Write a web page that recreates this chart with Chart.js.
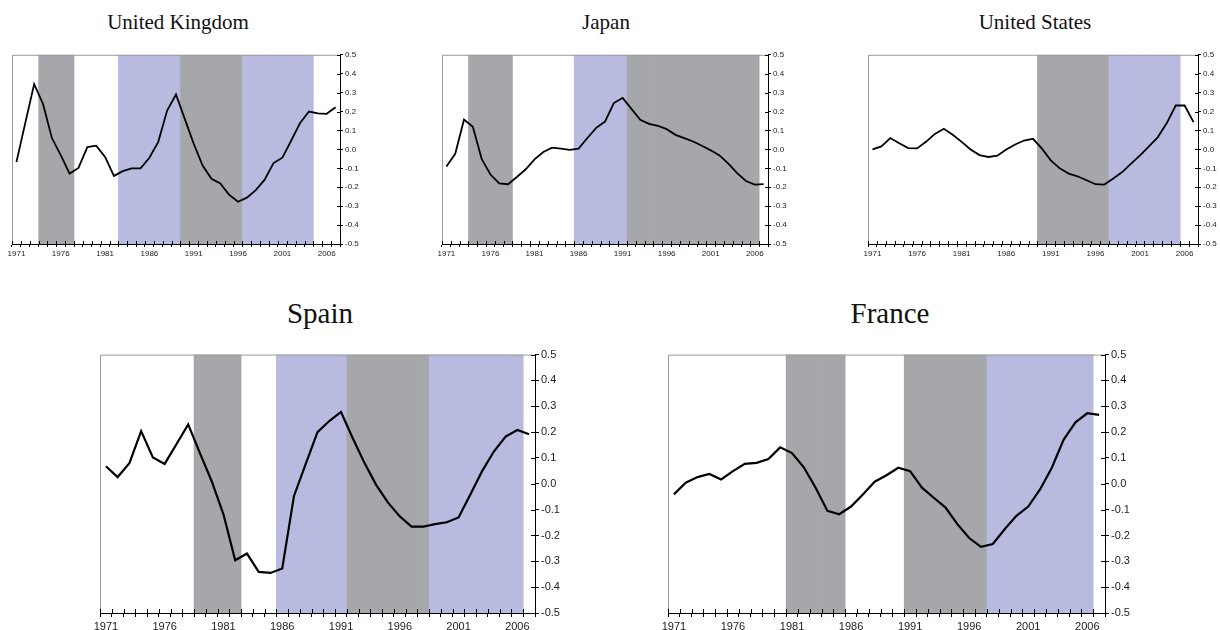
<!DOCTYPE html>
<html>
<head>
<meta charset="utf-8">
<script src="https://cdn.jsdelivr.net/npm/chart.js@4.4.1/dist/chart.umd.min.js"></script>
<style>
  body { margin: 0; background: #fff; width: 1220px; height: 630px; position: relative; overflow: hidden; }
  canvas { position: absolute; }
  .title { position: absolute; width: 300px; text-align: center; font-family: "Liberation Serif", "DejaVu Serif", serif; line-height: 1; color: #111; }
</style>
</head>
<body>
<div class="title" style="left:28px;top:12px;font-size:21px">United Kingdom</div>
<div class="title" style="left:456px;top:12px;font-size:21px">Japan</div>
<div class="title" style="left:885px;top:12px;font-size:21px">United States</div>
<div class="title" style="left:170px;top:299px;font-size:29px">Spain</div>
<div class="title" style="left:740px;top:299px;font-size:29px">France</div>

<canvas id="uk" width="362" height="212" style="left:0px;top:48px"></canvas>
<canvas id="japan" width="360" height="212" style="left:430px;top:48px"></canvas>
<canvas id="us" width="364" height="212" style="left:856px;top:48px"></canvas>
<canvas id="spain" width="477" height="284" style="left:88px;top:346px"></canvas>
<canvas id="france" width="479" height="284" style="left:656px;top:346px"></canvas>

<script>
// years on the x axis
const years = [1971, 1972, 1973, 1974, 1975, 1976, 1977, 1978, 1979, 1980,
    1981, 1982, 1983, 1984, 1985, 1986, 1987, 1988, 1989, 1990,
    1991, 1992, 1993, 1994, 1995, 1996, 1997, 1998, 1999, 2000,
    2001, 2002, 2003, 2004, 2005, 2006, 2007];
const yTicks = [-0.5, -0.4, -0.3, -0.2, -0.1, 0.0, 0.1, 0.2, 0.3, 0.4, 0.5];

// series values
const ukValues = [-0.067, 0.14, 0.345, 0.24, 0.06, -0.03, -0.128, -0.098, 0.012, 0.02,
    -0.04, -0.14, -0.115, -0.10, -0.10, -0.044, 0.04, 0.205, 0.29, 0.16,
    0.03, -0.085, -0.155, -0.18, -0.24, -0.277, -0.255, -0.215, -0.16, -0.072,
    -0.044, 0.047, 0.14, 0.20, 0.19, 0.188, 0.223];
const japanValues = [-0.09, -0.023, 0.158, 0.12, -0.05, -0.133, -0.18, -0.184, -0.146, -0.105,
    -0.053, -0.014, 0.009, 0.004, -0.002, 0.004, 0.06, 0.114, 0.147, 0.245,
    0.272, 0.214, 0.156, 0.135, 0.125, 0.107, 0.077, 0.06, 0.042, 0.019,
    -0.005, -0.032, -0.075, -0.125, -0.167, -0.186, -0.184];
const usValues = [0.0, 0.016, 0.06, 0.033, 0.007, 0.005, 0.04, 0.082, 0.109, 0.077,
    0.04, 0.0, -0.03, -0.04, -0.033, 0.0, 0.026, 0.047, 0.056, 0.004,
    -0.058, -0.10, -0.128, -0.142, -0.163, -0.184, -0.186, -0.154, -0.12, -0.075,
    -0.032, 0.016, 0.065, 0.139, 0.232, 0.232, 0.144];
const spainValues = [0.068, 0.026, 0.08, 0.204, 0.102, 0.077, 0.153, 0.23, 0.119, 0.01,
    -0.118, -0.296, -0.27, -0.341, -0.345, -0.328, -0.047, 0.077, 0.20, 0.243,
    0.278, 0.176, 0.08, -0.005, -0.073, -0.126, -0.166, -0.166, -0.156, -0.149,
    -0.13, -0.041, 0.049, 0.125, 0.183, 0.208, 0.192];
const franceValues = [-0.041, 0.004, 0.026, 0.038, 0.017, 0.049, 0.077, 0.081, 0.096, 0.141,
    0.119, 0.064, -0.015, -0.105, -0.118, -0.088, -0.041, 0.008, 0.033, 0.062,
    0.049, -0.015, -0.054, -0.092, -0.156, -0.21, -0.244, -0.233, -0.176, -0.124,
    -0.088, -0.022, 0.062, 0.171, 0.238, 0.273, 0.267];

// shaded periods (first year, last year)
const ukGray = [[1974, 1977], [1990, 1996]];
const ukBlue = [[1983, 1989], [1997, 2004]];
const japanGray = [[1974, 1978], [1992, 2006]];
const japanBlue = [[1986, 1991]];
const usGray = [[1990, 1997]];
const usBlue = [[1998, 2005]];
const spainGray = [[1979, 1982], [1992, 1998]];
const spainBlue = [[1986, 1991], [1999, 2006]];
const franceGray = [[1981, 1985], [1991, 1997]];
const franceBlue = [[1998, 2006]];

const GRAY = '#a6a7aa';
const BLUE = '#b8bbdf';

function inSpans(y, spans) {
    return spans.some(s => y >= s[0] && y <= s[1]);
}

// inward half of the crossing tick marks + grey plot outline
const frame = {
    id: 'frame',
    afterDatasetsDraw(chart) {
        const a = chart.chartArea, c = chart.ctx;
        c.save();
        c.strokeStyle = '#9a9a9a';
        c.lineWidth = 1;
        c.beginPath();
        c.moveTo(a.left + 0.5, a.bottom);
        c.lineTo(a.left + 0.5, a.top + 0.5);
        c.lineTo(a.right, a.top + 0.5);
        c.stroke();
        c.restore();
    },
    afterDraw(chart) {
        const a = chart.chartArea, c = chart.ctx;
        const x = chart.scales.x, y = chart.scales.y;
        const len = chart.options.plugins.frame.len;
        c.save();
        c.strokeStyle = '#000';
        c.lineWidth = 1;
        c.beginPath();
        for (let i = 0; i <= years.length; i++) {
            const px = Math.round(x.getPixelForValue(i - 0.5)) + 0.5;
            c.moveTo(px, a.bottom);
            c.lineTo(px, a.bottom - len);
        }
        y.ticks.forEach(t => {
            const py = Math.round(y.getPixelForValue(t.value)) + 0.5;
            c.moveTo(a.right, py);
            c.lineTo(a.right - len, py);
        });
        c.stroke();
        c.restore();
    }
};

function makeChart(id, values, gray, blue, big) {
    const fontSize = big ? 11 : 8;
    new Chart(document.getElementById(id), {
        type: 'bar',
        data: {
            labels: years,
            datasets: [{
                type: 'line',
                data: values,
                borderColor: '#000',
                borderWidth: big ? 2.2 : 1.8,
                pointRadius: 0,
                tension: 0,
                order: 0
            }, {
                type: 'bar',
                data: years.map(y => (inSpans(y, gray) || inSpans(y, blue)) ? [-0.5, 0.5] : null),
                backgroundColor: years.map(y => inSpans(y, gray) ? GRAY : BLUE),
                borderWidth: 0,
                barPercentage: 1,
                categoryPercentage: 1,
                order: 1
            }]
        },
        options: {
            responsive: false,
            animation: false,
            devicePixelRatio: 1,
            layout: { padding: { left: 12, top: 6, right: 0, bottom: 0 } },
            plugins: {
                legend: { display: false },
                tooltip: { enabled: false },
                frame: { len: big ? 4 : 3 }
            },
            scales: {
                x: {
                    type: 'category',
                    offset: true,
                    grid: { offset: true, drawOnChartArea: false, color: '#000', tickLength: big ? 4 : 3 },
                    border: { color: '#000' },
                    ticks: {
                        autoSkip: false,
                        maxRotation: 0,
                        padding: big ? 3 : 2,
                        color: '#222',
                        font: { family: 'Liberation Sans', size: fontSize },
                        callback: function (v, i) { return i % 5 === 0 ? String(years[i]) : ''; }
                    },
                    afterFit: s => { s.height = big ? 17 : 16; }
                },
                y: {
                    position: 'right',
                    min: yTicks[0],
                    max: yTicks[yTicks.length - 1],
                    grid: { drawOnChartArea: false, color: '#000', tickLength: big ? 4 : 3 },
                    border: { color: '#000' },
                    afterBuildTicks: s => { s.ticks = yTicks.map(v => ({ value: v })); },
                    ticks: {
                        padding: 2,
                        color: '#222',
                        font: { family: 'Liberation Sans', size: fontSize },
                        callback: v => (Math.abs(v) < 1e-9 ? 0 : v).toFixed(1)
                    },
                    afterFit: s => { s.width = big ? 30 : 22; }
                }
            }
        },
        plugins: [frame]
    });
}

makeChart('uk', ukValues, ukGray, ukBlue, false);
makeChart('japan', japanValues, japanGray, japanBlue, false);
makeChart('us', usValues, usGray, usBlue, false);
makeChart('spain', spainValues, spainGray, spainBlue, true);
makeChart('france', franceValues, franceGray, franceBlue, true);
</script>
</body>
</html>
